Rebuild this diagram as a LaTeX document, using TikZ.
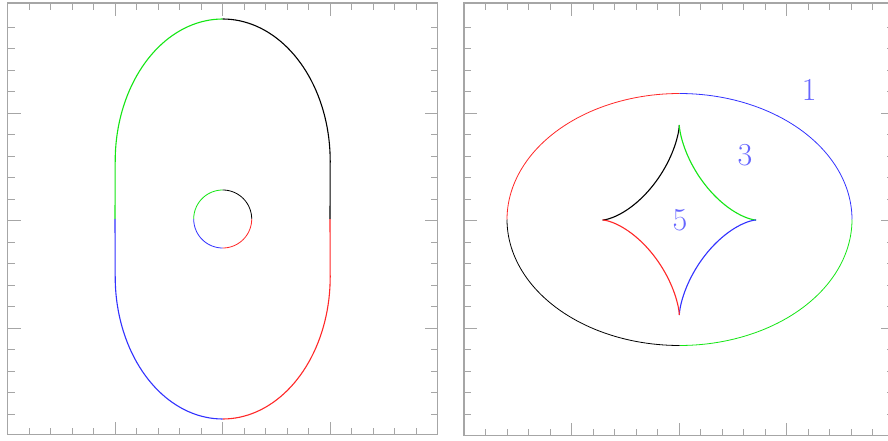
\documentclass[tikz,border=0pt]{standalone}
\begin{document}
\begin{tikzpicture}[x=1pt,y=-1pt,
  frame/.style={draw=black!35, line width=1.6pt},
  tickmark/.style={draw=black!35, line width=1.2pt},
  curve/.style={line width=1.1pt},
  thincurve/.style={line width=0.8pt},
  lbl/.style={text=blue!60!white, font=\fontsize{32}{34}\selectfont, inner sep=0pt}]
\definecolor{cgreen}{RGB}{20,230,20}
\definecolor{cred}{RGB}{255,40,40}
\definecolor{cblue}{RGB}{50,50,255}
\useasboundingbox (0,0) rectangle (888,441);
\clip (0,0) rectangle (888,441);
\fill[white] (0,0) rectangle (888,441);

% ---------- frames ----------
\draw[frame] (7.5,3) rectangle (437.5,434.5);
\draw[frame] (464,3) rectangle (894,435.5);

% ---------- ticks ----------
\foreach \cx/\L/\R/\T/\B in {222.7/7.5/437.5/3/434.5, 679.3/464/894/3/435.5}{
  \foreach \k in {-9,...,9}{
    \pgfmathsetmacro\len{(mod(\k,5)==0) ? 13 : 7}
    \draw[tickmark] ({\cx+\k*21.5},\T) -- ++(0,\len);
    \draw[tickmark] ({\cx+\k*21.5},\B) -- ++(0,-\len);
    \draw[tickmark] (\L,{220.7+\k*21.5}) -- ++(\len,0);
    \draw[tickmark] (\R,{220.7+\k*21.5}) -- ++(-\len,0);
  }
}

% ---------- left panel: critical curves ----------
\draw[curve,cgreen] plot[domain=90:180,samples=40] ({222.7+107.5*cos(\x)},{161-142*sin(\x)}) -- (115,219);
\draw[curve,black] (330,219) -- plot[domain=0:90,samples=40] ({222.7+107.5*cos(\x)},{161-142*sin(\x)});
\draw[curve,cred] (330,219) -- plot[domain=360:270,samples=40] ({222.7+107.5*cos(\x)},{277-142*sin(\x)});
\draw[curve,cblue] (115,219) -- plot[domain=180:270,samples=40] ({222.7+107.5*cos(\x)},{277-142*sin(\x)});

\draw[thincurve,cgreen] plot[domain=90:180,samples=30] ({222.7+29*cos(\x)},{219-29*sin(\x)});
\draw[thincurve,black] plot[domain=0:90,samples=30] ({222.7+29*cos(\x)},{219-29*sin(\x)});
\draw[thincurve,cred] plot[domain=270:360,samples=30] ({222.7+29*cos(\x)},{219-29*sin(\x)});
\draw[thincurve,cblue] plot[domain=180:270,samples=30] ({222.7+29*cos(\x)},{219-29*sin(\x)});

% ---------- right panel: caustics ----------
\draw[thincurve,cred] plot[domain=90:180,samples=50] ({679.5+172.5*cos(\x)},{219.5-126*sin(\x)});
\draw[thincurve,cblue] plot[domain=0:90,samples=50] ({679.5+172.5*cos(\x)},{219.5-126*sin(\x)});
\draw[thincurve,cgreen] plot[domain=270:360,samples=50] ({679.5+172.5*cos(\x)},{219.5-126*sin(\x)});
\draw[thincurve,black] plot[domain=180:270,samples=50] ({679.5+172.5*cos(\x)},{219.5-126*sin(\x)});

\draw[curve,black] plot[domain=90:180,samples=50] ({679.3+76.7*cos(\x)*cos(\x)*cos(\x)},{220-95*sin(\x)*sin(\x)*sin(\x)});
\draw[curve,cgreen] plot[domain=0:90,samples=50] ({679.3+76.7*cos(\x)*cos(\x)*cos(\x)},{220-95*sin(\x)*sin(\x)*sin(\x)});
\draw[curve,cblue] plot[domain=270:360,samples=50] ({679.3+76.7*cos(\x)*cos(\x)*cos(\x)},{220-95*sin(\x)*sin(\x)*sin(\x)});
\draw[curve,cred] plot[domain=180:270,samples=50] ({679.3+76.7*cos(\x)*cos(\x)*cos(\x)},{220-95*sin(\x)*sin(\x)*sin(\x)});

% ---------- labels ----------
\node[lbl] (n1) at (809.3,90) {1};
\node[lbl] (n3) at (745,155) {3};
\node[lbl] (n5) at (680,220) {5};
\end{tikzpicture}
\end{document}
